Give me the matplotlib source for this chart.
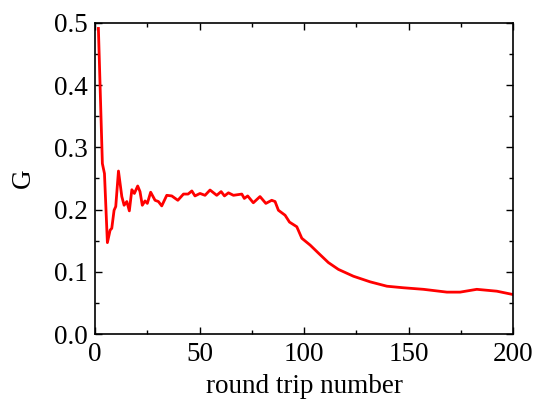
import numpy as np
import matplotlib
matplotlib.use('Agg')
import matplotlib.pyplot as plt
from matplotlib.ticker import MultipleLocator

plt.rcParams['font.family'] = ['Liberation Serif', 'DejaVu Serif']
plt.rcParams['mathtext.fontset'] = 'stix'

# gain vs round trip number
rt = [1.6, 3.5, 4.5, 5.9, 7.2, 8.0, 9.1, 9.9, 11.2, 12.8, 13.9, 15.2, 16.4, 17.6,
      18.8, 20.4, 21.5, 22.6, 23.9, 25.0, 26.6, 28.7, 30.3, 31.9, 34.3, 36.7,
      39.6, 42.3, 44.5, 46.3, 47.8, 50.2, 52.6, 55.0, 58.2, 60.3, 61.9, 63.8,
      66.2, 70.2, 71.4, 73.0, 75.7, 78.9, 81.7, 84.5, 86.1, 87.7, 90.9, 93.0,
      96.5, 98.9, 102.9, 106.9, 111.6, 116.4, 123.6, 131.6, 139.6, 147.5,
      157.1, 168.3, 174.6, 182.6, 192.2, 199.4]
gain = [0.491, 0.274, 0.258, 0.147, 0.167, 0.170, 0.199, 0.205, 0.262, 0.221,
        0.207, 0.213, 0.198, 0.232, 0.226, 0.238, 0.229, 0.207, 0.214, 0.210,
        0.228, 0.215, 0.213, 0.206, 0.223, 0.222, 0.215, 0.225, 0.225, 0.230,
        0.222, 0.226, 0.223, 0.2315, 0.223, 0.229, 0.222, 0.227, 0.223, 0.225,
        0.218, 0.222, 0.211, 0.221, 0.210, 0.215, 0.213, 0.199, 0.191, 0.180,
        0.1725, 0.154, 0.143, 0.130, 0.115, 0.104, 0.093, 0.084, 0.077, 0.0745,
        0.072, 0.0675, 0.0675, 0.072, 0.069, 0.064]

fig = plt.figure(figsize=(5.34, 4.08), dpi=100)
ax = fig.add_axes([0.178, 0.181, 0.783, 0.763])

ax.plot(rt, gain, color='#ff0000', lw=2.0)

ax.set_xlim(0, 200)
ax.set_ylim(0, 0.5)
ax.xaxis.set_major_locator(MultipleLocator(50))
ax.xaxis.set_minor_locator(MultipleLocator(25))
ax.yaxis.set_major_locator(MultipleLocator(0.1))
ax.yaxis.set_minor_locator(MultipleLocator(0.05))
ax.yaxis.set_major_formatter(plt.FormatStrFormatter('%.1f'))

for s in ax.spines.values():
    s.set_linewidth(1.2)
ax.tick_params(which='both', direction='in', top=True, right=True, width=1.0,
               labelsize=19.5)
ax.tick_params(axis='x', pad=6)
ax.tick_params(axis='y', pad=5)
ax.tick_params(which='major', length=5)
ax.tick_params(which='minor', length=3)

ax.set_xlabel('round trip number', fontsize=19.5, labelpad=5)
ax.set_ylabel('G', fontsize=19.5, labelpad=13)

fig.savefig('out.png', dpi=100)
